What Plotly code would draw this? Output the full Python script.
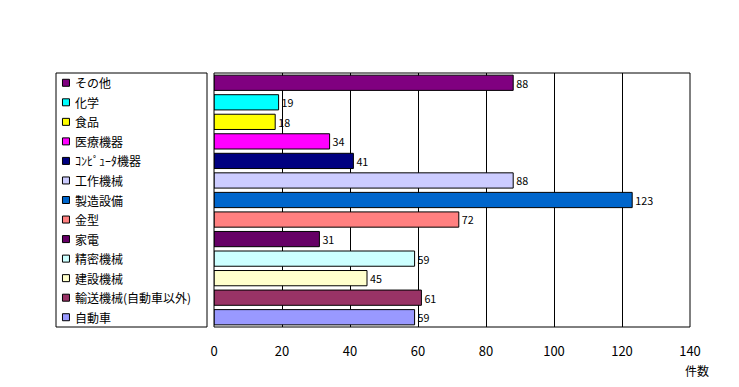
import plotly.graph_objects as go

categories = ["その他", "化学", "食品", "医療機器", "ｺﾝﾋﾟｭｰﾀ機器", "工作機械", "製造設備",
              "金型", "家電", "精密機械", "建設機械", "輸送機械(自動車以外)", "自動車"]
values = [88, 19, 18, 34, 41, 88, 123, 72, 31, 59, 45, 61, 59]
colors = ["#800080", "#00FFFF", "#FFFF00", "#FF00FF", "#000080", "#CCCCFF", "#0066CC",
          "#FF8080", "#660066", "#CCFFFF", "#FFFFCC", "#993366", "#9999FF"]
x_ticks = [0, 20, 40, 60, 80, 100, 120, 140]
x_title = "件数"

FONT = "Noto Sans CJK JP, sans-serif"
OFF = 8  # page body margin
W, H = 739 - 2 * OFF, 387 - 2 * OFF
L, R, T, B = 56 - OFF, W - (690 - OFF), 73 - OFF, H - (327 - OFF)
pw = W - L - R
ph = H - T - B

fig = go.Figure()
fig.add_trace(go.Bar(
    y=categories, x=values, orientation="h",
    marker=dict(color=colors, line=dict(color="black", width=1)),
    width=0.78,
    text=[str(v) for v in values], textposition="outside",
    textfont=dict(family=FONT, size=12, color="black"),
    cliponaxis=False, showlegend=False, hoverinfo="skip",
))
# legend-like label panel
fig.add_trace(go.Scatter(
    x=[0.066] * len(categories), y=categories, xaxis="x2", yaxis="y",
    mode="markers",
    marker=dict(symbol="square", size=7, color=colors, line=dict(color="black", width=1)),
    showlegend=False, hoverinfo="skip",
))
for c in categories:
    fig.add_annotation(x=0.11, y=c, xref="x2", yref="y", text=c, showarrow=False,
                       xanchor="left", yanchor="middle",
                       font=dict(family=FONT, size=12, color="black"))

fig.add_annotation(x=(697 - OFF - L) / pw, y=((327 - OFF) - (370 - OFF)) / ph,
                   xref="paper", yref="paper", text=x_title,
                   showarrow=False, xanchor="center", yanchor="middle",
                   font=dict(family=FONT, size=12, color="black"))

fig.add_shape(type="rect", xref="x domain", yref="y domain", x0=0, x1=1, y0=0, y1=1,
              line=dict(color="black", width=1), layer="above")
fig.add_shape(type="rect", xref="x2 domain", yref="y domain", x0=0, x1=1, y0=0, y1=1,
              line=dict(color="black", width=1), layer="above")

fig.update_layout(
    width=W, height=H,
    margin=dict(l=L, r=R, t=T, b=B),
    paper_bgcolor="white", plot_bgcolor="white",
    xaxis=dict(domain=[(214 - 56) / pw, 1], range=[0, 140], tickvals=x_ticks,
               showgrid=True, gridcolor="black", gridwidth=1, zeroline=False,
               showline=False, ticks="", tickfont=dict(family=FONT, size=13, color="black"),
               ticklabelstandoff=15, fixedrange=True),
    xaxis2=dict(domain=[0, (207 - 56) / pw], range=[0, 1], showgrid=False, zeroline=False,
                showticklabels=False, ticks="", showline=False, anchor="y", fixedrange=True),
    yaxis=dict(categoryorder="array", categoryarray=categories, range=[12.5, -0.5],
               showticklabels=False, ticks="", showgrid=False, zeroline=False,
               fixedrange=True),
)

fig.write_html("out.html")
